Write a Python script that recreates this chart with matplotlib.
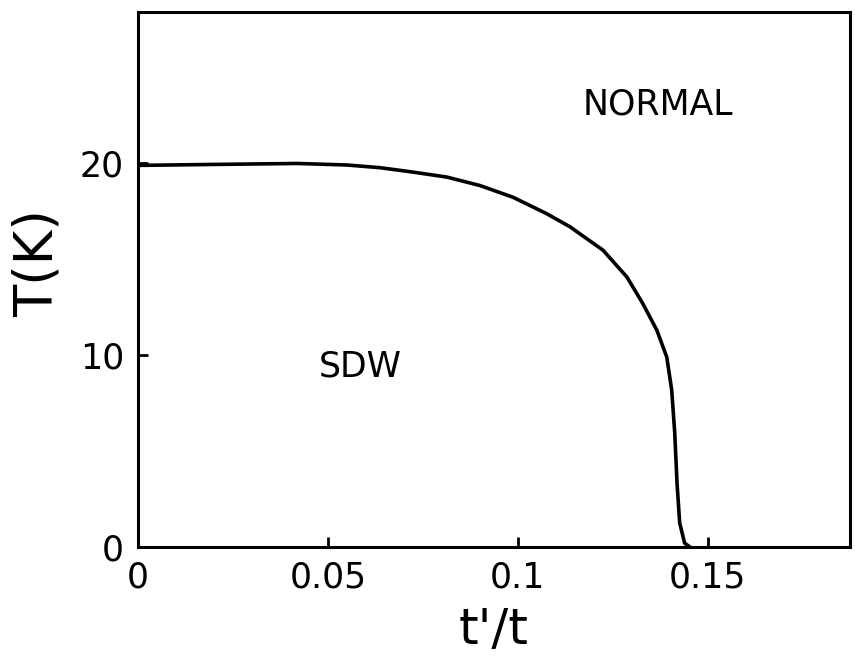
import numpy as np
import matplotlib.pyplot as plt

# SDW / normal phase boundary, T(K) against t'/t
tp = [0.0, 0.02, 0.042, 0.055, 0.0637, 0.0724, 0.0813, 0.09, 0.0987,
      0.1076, 0.1137, 0.1224, 0.1287, 0.1329, 0.1366, 0.1392, 0.1405,
      0.1413, 0.1419, 0.1426, 0.1439, 0.1453]
Tc = [19.9, 19.95, 20.0, 19.92, 19.78, 19.55, 19.29, 18.85, 18.24,
      17.38, 16.7, 15.48, 14.08, 12.69, 11.3, 9.9, 8.18,
      5.94, 3.33, 1.25, 0.2, 0.0]

xticks = [0, 0.05, 0.1, 0.15]
xticklabels = ['0', '0.05', '0.1', '0.15']
yticks = [0, 10, 20]

plt.rcParams['font.family'] = 'DejaVu Sans'

fig = plt.figure(figsize=(8.55, 6.58), dpi=100)
ax = fig.add_axes([0.1614, 0.1687, 0.8326, 0.8131])

ax.plot(tp, Tc, color='black', lw=2.6, solid_capstyle='round',
        solid_joinstyle='round')

ax.set_xlim(0, 0.1874)
ax.set_ylim(0, 27.9)
ax.set_xticks(xticks)
ax.set_xticklabels(xticklabels)
ax.set_yticks(yticks)
ax.tick_params(direction='in', length=7, width=2, labelsize=25, pad=10)
for s in ax.spines.values():
    s.set_linewidth(2.2)

ax.set_xlabel("t'/t", fontsize=36, labelpad=8)
ax.set_ylabel('T(K)', fontsize=38)
ax.yaxis.set_label_coords(-0.105, 0.53)

ax.text(0.1368, 23.1, 'NORMAL', fontsize=25, ha='center', va='center')
ax.text(0.0584, 9.4, 'SDW', fontsize=25, ha='center', va='center')

fig.savefig('out.png', dpi=100)
